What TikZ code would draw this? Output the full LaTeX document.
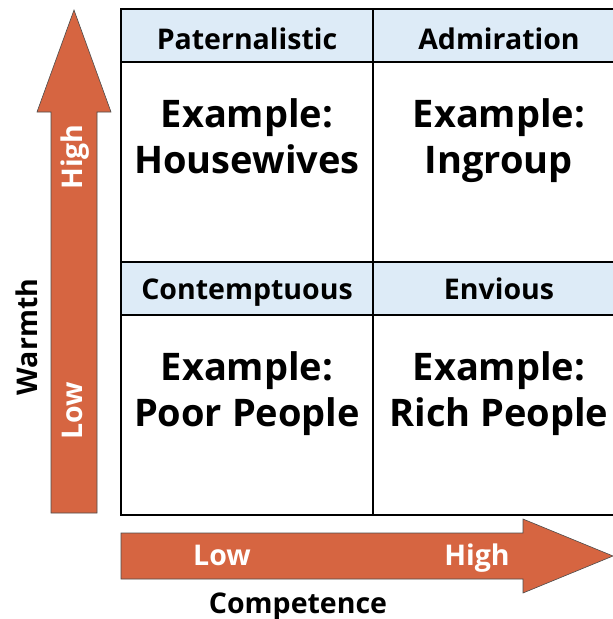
\documentclass[tikz,border=0pt]{standalone}
\usepackage{fontspec}
\setmainfont{Open Sans}
\usetikzlibrary{positioning}

\definecolor{axisorange}{RGB}{214,101,65}
\definecolor{headblue}{RGB}{221,235,247}

\begin{document}
\begin{tikzpicture}[
        x=1pt, y=-1pt,
        grid/.style={
            draw=black,
            line width=1.3pt,
            minimum width=252pt,
            inner sep=0pt,
            outer sep=0pt
        },
        header/.style={
            grid,
            fill=headblue,
            minimum height=53pt,
            text height=27pt,
            text depth=0pt,
            font=\fontsize{28.5}{34}\selectfont\bfseries
        },
        body/.style={
            grid,
            fill=white,
            minimum height=200pt
        },
        celltext/.style={
            align=center,
            font=\fontsize{38}{46}\selectfont\bfseries
        },
        axisarrow/.style={
            fill=axisorange,
            draw=black!70,
            line width=0.6pt
        },
        axistext/.style={
            text=white,
            anchor=base,
            font=\fontsize{28.5}{34}\selectfont\bfseries
        },
        axistitle/.style={
            anchor=base,
            font=\fontsize{28.5}{34}\selectfont\bfseries
        }
    ]
        \useasboundingbox (0,0) rectangle (613,619);
        \clip (0,0) rectangle (613,619);

        % quadrants
        \node[header, anchor=north west] (pat) at (121,9) {Paternalistic};
        \node[header, right=0pt of pat] (adm) {Admiration};
        \node[body, below=0pt of pat] (hw) {};
        \node[body, below=0pt of adm] (ing) {};
        \node[header, text height=21pt, below=0pt of hw] (con) {Contemptuous};
        \node[header, text height=21pt, below=0pt of ing] (env) {Envious};
        \node[body, below=0pt of con] (poor) {};
        \node[body, below=0pt of env] (rich) {};

        \node[celltext] (hwtext) at ([yshift=-79pt]hw.north) {Example:\strut\\Housewives\strut};
        \node[celltext] (ingtext) at ([yshift=-79pt]ing.north) {Example:\strut\\Ingroup\strut};
        \node[celltext] (poortext) at ([yshift=-79pt]poor.north) {Example:\strut\\Poor People\strut};
        \node[celltext] (richtext) at ([yshift=-79pt]rich.north) {Example:\strut\\Rich People\strut};

        % axes
        \draw[axisarrow] (51,513) -- (51,112) -- (37,112) -- (74,10)
            -- (111,112) -- (97,112) -- (97,513) -- cycle;
        \draw[axisarrow] (121,533) -- (523,533) -- (523,519) -- (613,556)
            -- (523,593) -- (523,579) -- (121,579) -- cycle;

        \node[axistext, rotate=90] (wlow) at (82,411) {Low};
        \node[axistext, rotate=90] (whigh) at (82,157) {High};
        \node[axistext] (clow) at (222,565) {Low};
        \node[axistext] (chigh) at (477,565) {High};

        \node[axistitle, rotate=90] (warmth) at (37,337) {Warmth};
        \node[axistitle] (comp) at (298,613) {Competence};
    \end{tikzpicture}
\end{document}
